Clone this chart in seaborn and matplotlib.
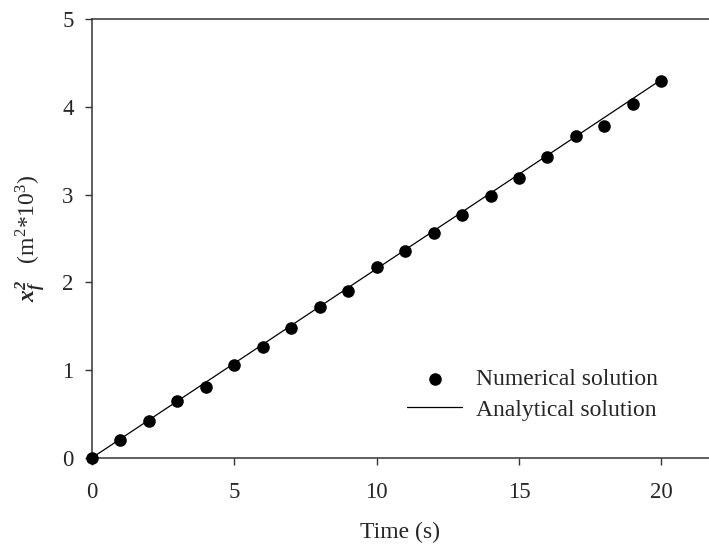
import numpy as np
import pandas as pd
import matplotlib
matplotlib.use("Agg")
import matplotlib.pyplot as plt
import seaborn as sns

# Data
time_points = [0, 1, 2, 3, 4, 5, 6, 7, 8, 9, 10, 11, 12, 13, 14, 15, 16, 17, 18, 19, 20]
numerical = [0.0, 0.21, 0.42, 0.645, 0.81, 1.057, 1.26, 1.485, 1.725, 1.897, 2.172,
             2.363, 2.561, 2.771, 2.985, 3.193, 3.428, 3.667, 3.784, 4.034, 4.295]
analytical_time = [0, 20]
analytical = [0.0, 4.31]
x_ticks = [0, 5, 10, 15, 20]
y_ticks = [0, 1, 2, 3, 4, 5]

sns.set_style("ticks")
plt.rcParams["font.family"] = ["Liberation Serif", "DejaVu Serif"]
plt.rcParams["mathtext.fontset"] = "custom"
plt.rcParams["mathtext.rm"] = "Liberation Serif"
plt.rcParams["mathtext.it"] = "Liberation Serif:italic"
plt.rcParams["mathtext.bf"] = "Liberation Serif:italic:bold"

df_num = pd.DataFrame({"t": time_points, "v": numerical})
df_ana = pd.DataFrame({"t": analytical_time, "v": analytical})

fig = plt.figure(figsize=(7.09, 5.45), dpi=100)
ax = fig.add_axes([91.7 / 709, 87 / 545, (709 - 91.7) / 709, 439 / 545])

sns.lineplot(data=df_ana, x="t", y="v", ax=ax, color="black", linewidth=0.9,
             label="Analytical solution")
sns.scatterplot(data=df_num, x="t", y="v", ax=ax, color="black", s=82,
                edgecolor="black", linewidth=0, label="Numerical solution",
                zorder=3, clip_on=False)

ax.set_xlim(0, 21.67)
ax.set_ylim(0, 5)
ax.set_xticks(x_ticks)
ax.set_yticks(y_ticks)
ax.tick_params(axis="both", labelsize=16.5, length=5, width=1.0, color="#333333",
               direction="out")
ax.tick_params(axis="x", pad=12.5)
ax.tick_params(axis="y", pad=8)
for side in ["left", "bottom", "top"]:
    ax.spines[side].set_linewidth(1.1)
    ax.spines[side].set_color("#333333")
ax.spines["right"].set_visible(False)
ax.spines["top"].set_visible(True)

ax.set_xlabel("Time (s)", fontsize=17, labelpad=13.5)
ax.set_ylabel(r"$\mathbf{x_f^2}$   (m$^2$*10$^3$)", fontsize=17, labelpad=10)

handles, labels = ax.get_legend_handles_labels()
order = [labels.index("Numerical solution"), labels.index("Analytical solution")]
leg = ax.legend([handles[i] for i in order], [labels[i] for i in order],
                loc="upper left", bbox_to_anchor=(0.5115, 0.203), frameon=False,
                fontsize=17, handlelength=2.3, handletextpad=0.6,
                labelspacing=0.37, borderpad=0, borderaxespad=0)

fig.savefig("out.png", dpi=100)
